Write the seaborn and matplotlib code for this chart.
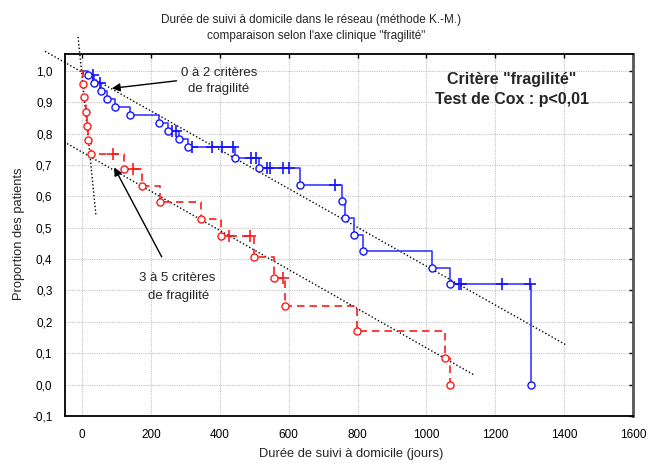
import matplotlib
matplotlib.use("Agg")
import matplotlib.pyplot as plt
import seaborn as sns

# ---------------- data ----------------
# Group "0 à 2 critères de fragilité" (blue): event times and survival after each event
blue_event_t = [17, 35, 54, 73, 94, 139, 222, 249, 281, 306, 443, 515, 633, 755, 763, 790, 817, 1015, 1069, 1303]
blue_event_s = [0.985, 0.960, 0.935, 0.910, 0.884, 0.860, 0.835, 0.809, 0.782, 0.756, 0.723, 0.689,
                0.637, 0.585, 0.531, 0.478, 0.426, 0.373, 0.320, 0.0]
# censored observations (blue)
blue_cens_t = [32, 52, 262, 271, 320, 378, 407, 437, 489, 505, 537, 545, 582, 601, 733, 1094, 1099, 1220, 1300]
blue_cens_s = [0.985, 0.960, 0.809, 0.809, 0.756, 0.756, 0.756, 0.756, 0.723, 0.723, 0.689, 0.689,
               0.689, 0.689, 0.637, 0.320, 0.320, 0.320, 0.320]

# Group "3 à 5 critères de fragilité" (red)
red_event_t = [2, 6, 12, 15, 18, 26, 120, 174, 226, 345, 403, 498, 557, 590, 797, 1054, 1069]
red_event_s = [0.958, 0.915, 0.870, 0.824, 0.779, 0.734, 0.686, 0.634, 0.581, 0.527, 0.475, 0.407,
               0.339, 0.252, 0.170, 0.084, 0.0]
red_cens_t = [90, 147, 426, 487, 584]
red_cens_s = [0.734, 0.686, 0.475, 0.475, 0.339]

# dotted trend lines (end points)
fit_blue_x = [-108, 1408]
fit_blue_y = [1.062, 0.125]
fit_red_x = [-44, 1138]
fit_red_y = [0.768, 0.031]
fit_early_x = [-12, 40]
fit_early_y = [1.108, 0.538]

xticks = [0, 200, 400, 600, 800, 1000, 1200, 1400, 1600]
yticks = [-0.1, 0.0, 0.1, 0.2, 0.3, 0.4, 0.5, 0.6, 0.7, 0.8, 0.9, 1.0]
ytick_labels = ["-0,1", "0,0", "0,1", "0,2", "0,3", "0,4", "0,5", "0,6", "0,7", "0,8", "0,9", "1,0"]

title_l1 = "Durée de suivi à domicile dans le réseau (méthode K.-M.)"
title_l2 = "comparaison selon l'axe clinique \"fragilité\""
xlabel = "Durée de suivi à domicile (jours)"
ylabel = "Proportion des patients"

# ---------------- style ----------------
sns.set_style("white")
plt.rcParams["font.family"] = ["Liberation Sans", "DejaVu Sans"]

BLUE_LINE = "#3a3aff"
BLUE = "#1414ff"
RED = "#ff1a1a"

fig = plt.figure(figsize=(6.48, 4.63), dpi=100)
ax = fig.add_axes([65 / 648, 1 - 416 / 463, (633 - 65) / 648, (416 - 53.5) / 463])

ax.set_xlim(-50, 1600)
ax.set_ylim(-0.1, 1.055)

# grid
ax.set_xticks(xticks)
ax.set_yticks(yticks)
ax.set_yticklabels(ytick_labels)
ax.grid(True, color="#c4c4c4", linestyle=(0, (1, 1)), linewidth=0.8)
ax.set_axisbelow(True)

# trend lines (extend outside the frame)
for fx, fy in [(fit_blue_x, fit_blue_y), (fit_red_x, fit_red_y), (fit_early_x, fit_early_y)]:
    ln, = ax.plot(fx, fy, color="black", linestyle=(0, (1, 1.6)), linewidth=1.0, zorder=2)
    ln.set_clip_on(False)

# Kaplan-Meier step curves
bx = [0] + blue_event_t
by = [1.0] + blue_event_s
rx = [0] + red_event_t
ry = [1.0] + red_event_s
sns.lineplot(x=bx, y=by, drawstyle="steps-post", estimator=None, sort=False,
             color=BLUE_LINE, linewidth=1.2, ax=ax, zorder=3)
sns.lineplot(x=rx, y=ry, drawstyle="steps-post", estimator=None, sort=False,
             color=RED, linewidth=1.2, ax=ax, zorder=3)
ax.lines[-1].set_linestyle((0, (4.5, 3)))

# event markers (open circles)
sns.scatterplot(x=blue_event_t, y=blue_event_s, marker="o", s=26, facecolor="white",
                edgecolor=BLUE, linewidth=1.0, ax=ax, zorder=5)
sns.scatterplot(x=red_event_t, y=red_event_s, marker="o", s=26, facecolor="white",
                edgecolor=RED, linewidth=1.0, ax=ax, zorder=5)
# censored markers (+)
ax.plot(blue_cens_t, blue_cens_s, linestyle="none", marker="+", markersize=8,
        markeredgewidth=1.2, color=BLUE, zorder=4)
ax.plot(red_cens_t, red_cens_s, linestyle="none", marker="+", markersize=8,
        markeredgewidth=1.2, color=RED, zorder=4)

# spines / ticks
for sp in ax.spines.values():
    sp.set_visible(True)
    sp.set_color("black")
    sp.set_linewidth(1.3)
ax.spines["right"].set_color("#555555")
ax.spines["right"].set_linewidth(2.0)
ax.tick_params(direction="in", length=3, width=1, top=True, right=True,
               labelsize=8.5, pad=9, colors="black")

ax.set_xlabel("")
ax.set_ylabel("")
fig.text(351 / 648, 1 - 454 / 463, xlabel, ha="center", va="center", fontsize=9.3)
fig.text(19 / 648, 1 - 234 / 463, ylabel, ha="center", va="center", rotation=90, fontsize=9.3)
fig.text(311 / 648, 1 - 20 / 463, title_l1, ha="center", va="center", fontsize=8.5)
fig.text(316 / 648, 1 - 36 / 463, title_l2, ha="center", va="center", fontsize=8.5)

# annotations
arrow = dict(arrowstyle="-|>", color="black", lw=1.0, mutation_scale=12, shrinkA=0, shrinkB=0)
ax.annotate("", xy=(86, 0.944), xytext=(274, 0.968), arrowprops=arrow, zorder=6)
ax.annotate("", xy=(93, 0.692), xytext=(231, 0.407), arrowprops=arrow, zorder=6)
ax.text(397, 0.993, "0 à 2 critères", ha="center", va="center", fontsize=9.5)
ax.text(397, 0.942, "de fragilité", ha="center", va="center", fontsize=9.5)
ax.text(276, 0.339, "3 à 5 critères", ha="center", va="center", fontsize=9.5)
ax.text(281, 0.282, "de fragilité", ha="center", va="center", fontsize=9.5)
ax.text(1246, 0.971, "Critère \"fragilité\"", ha="center", va="center", fontsize=11.5, fontweight="bold")
ax.text(1249, 0.907, "Test de Cox : p<0,01", ha="center", va="center", fontsize=11.5, fontweight="bold")

fig.savefig("out.png", dpi=100)
